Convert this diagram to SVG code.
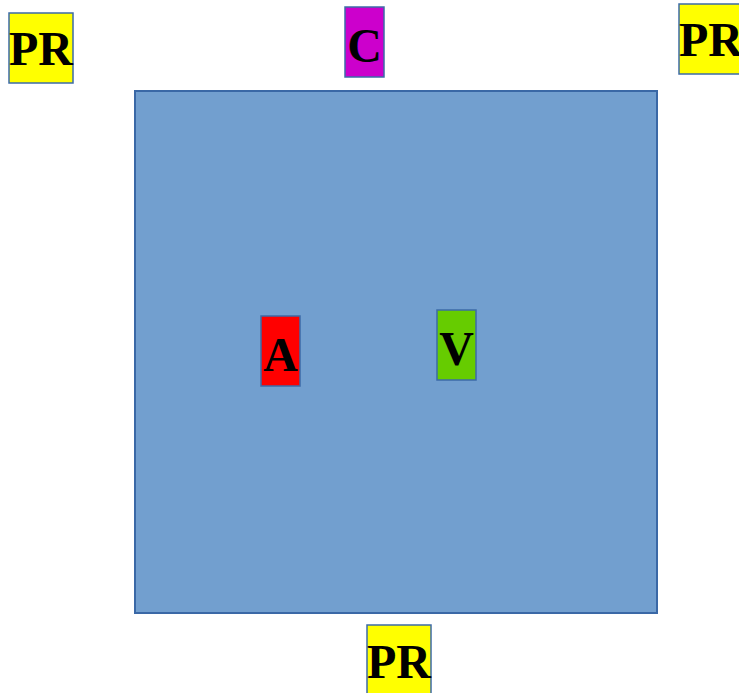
<svg xmlns="http://www.w3.org/2000/svg" width="739" height="693" viewBox="0 0 739 693">
<style>
.b{stroke:#3C6BA8;stroke-width:1.5}
.t{font-family:"Liberation Serif","Times New Roman",serif;font-weight:bold;font-size:48px;text-anchor:middle;fill:#000}
</style>
<rect width="739" height="693" fill="#fff"/>
<g id="main">
<rect x="135" y="91" width="522" height="522" fill="#729FCF" stroke="#3A68A6" stroke-width="2"/>
</g>
<g id="pr1"><rect class="b" x="9" y="13" width="64" height="70" fill="#FFFF00"/><text class="t" x="41" y="65">PR</text></g>
<g id="c"><rect class="b" x="345" y="7" width="39" height="70" fill="#CC00CC"/><text class="t" x="364.5" y="62">C</text></g>
<g id="pr2"><rect class="b" x="679" y="4" width="64" height="70" fill="#FFFF00"/><text class="t" x="711" y="56">PR</text></g>
<g id="a"><rect class="b" x="261" y="316" width="39" height="70" fill="#FF0000"/><text class="t" x="280.5" y="371">A</text></g>
<g id="v"><rect class="b" x="437" y="310" width="39" height="70" fill="#66CC00"/><text class="t" x="456.5" y="365">V</text></g>
<g id="pr3"><rect class="b" x="367" y="625" width="64" height="70" fill="#FFFF00"/><text class="t" x="399" y="678">PR</text></g>
<g id="connectors"/>
</svg>
